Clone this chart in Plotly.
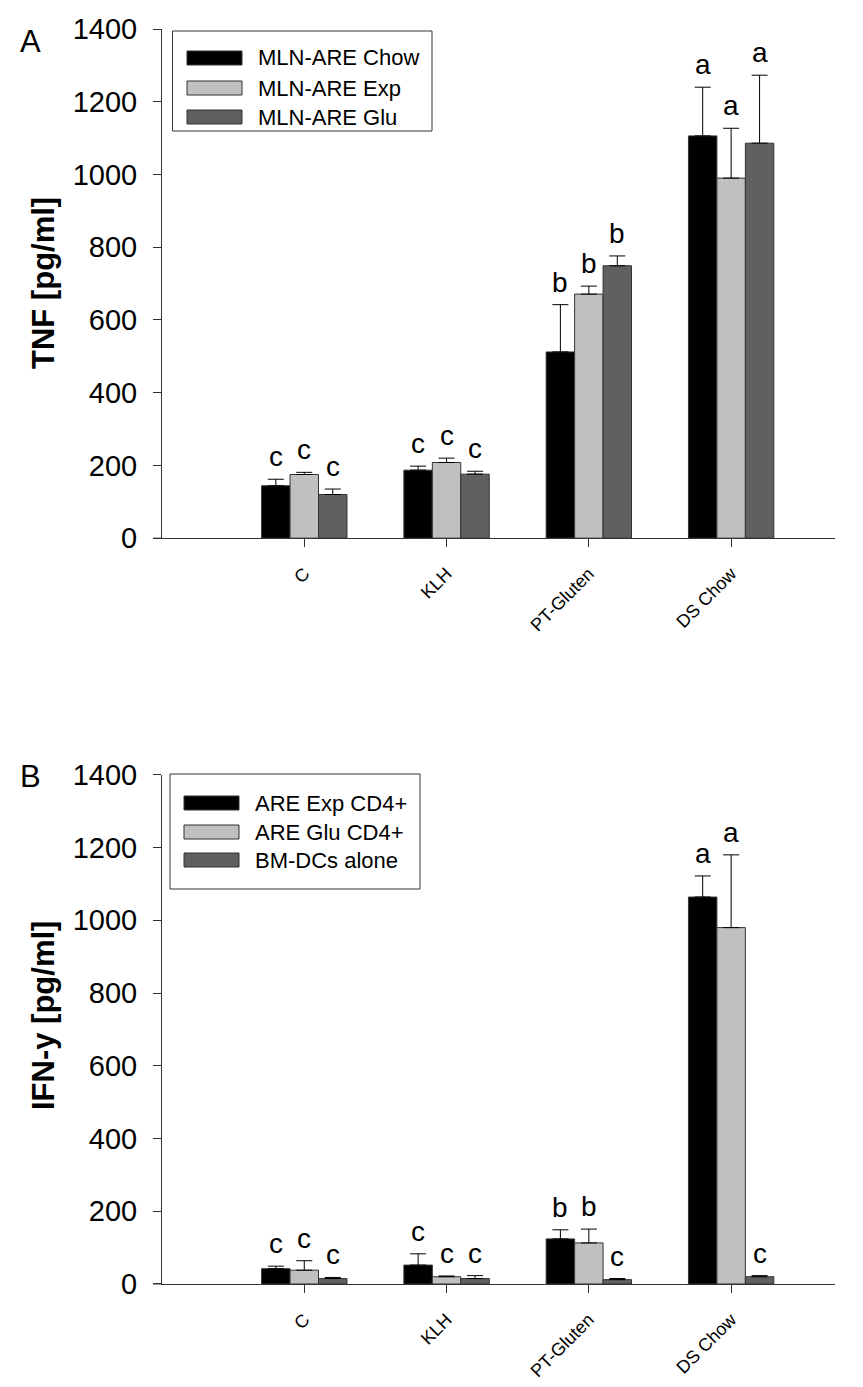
import plotly.graph_objects as go
from plotly.subplots import make_subplots

# ---------------------------------------------------------------------
# Data
# ---------------------------------------------------------------------
categories = ["C", "KLH", "PT-Gluten", "DS Chow"]

# Panel A: TNF [pg/ml]
tnf_names = ["MLN-ARE Chow", "MLN-ARE Exp", "MLN-ARE Glu"]
tnf_chow = [144, 187, 512, 1106]
tnf_exp = [175, 208, 671, 990]
tnf_glu = [120, 176, 749, 1086]
tnf_chow_err = [18, 11, 130, 134]
tnf_exp_err = [6, 12, 22, 137]
tnf_glu_err = [15, 8, 27, 187]
tnf_chow_sig = ["c", "c", "b", "a"]
tnf_exp_sig = ["c", "c", "b", "a"]
tnf_glu_sig = ["c", "c", "b", "a"]

# Panel B: IFN-y [pg/ml]
ifn_names = ["ARE Exp CD4+", "ARE Glu CD4+", "BM-DCs alone"]
ifn_exp = [42, 52, 124, 1064]
ifn_glu = [38, 20, 113, 980]
ifn_dc = [15, 15, 12, 20]
ifn_exp_err = [7, 31, 25, 58]
ifn_glu_err = [26, 2, 38, 200]
ifn_dc_err = [3, 8, 3, 3]
ifn_exp_sig = ["c", "c", "b", "a"]
ifn_glu_sig = ["c", "c", "b", "a"]
ifn_dc_sig = ["c", "c", "c", "c"]

COLORS = ["#000000", "#C0C0C0", "#606060"]
EDGE = "#333333"
FONT = "Arial, Liberation Sans, sans-serif"

W, H = 863, 1387
ML, MR, MT, MB = 162, 28, 29, 103
PW, PH = W - ML - MR, H - MT - MB


def px_x(x):
    return (x - ML) / PW


def px_y(y):
    return (H - MB - y) / PH


fig = make_subplots(rows=2, cols=1, vertical_spacing=0.1886)

panels = [
    (1, tnf_names, [tnf_chow, tnf_exp, tnf_glu],
     [tnf_chow_err, tnf_exp_err, tnf_glu_err],
     [tnf_chow_sig, tnf_exp_sig, tnf_glu_sig]),
    (2, ifn_names, [ifn_exp, ifn_glu, ifn_dc],
     [ifn_exp_err, ifn_glu_err, ifn_dc_err],
     [ifn_exp_sig, ifn_glu_sig, ifn_dc_sig]),
]

xs = list(range(len(categories)))
annotations = []
for row, names, series, errs, sigs in panels:
    for j, (name, vals, err, sig) in enumerate(zip(names, series, errs, sigs)):
        fig.add_trace(
            go.Bar(
                x=xs,
                y=vals,
                name=name,
                marker=dict(color=COLORS[j], line=dict(color=EDGE, width=1)),
                error_y=dict(
                    type="data",
                    array=err,
                    arrayminus=[0] * len(err),
                    symmetric=False,
                    color="#000000",
                    thickness=1,
                    width=8,
                ),
                showlegend=False,
            ),
            row=row,
            col=1,
        )
        # significance letters above each error bar
        xref = "x" if row == 1 else "x2"
        yref = "y" if row == 1 else "y2"
        for i, (v, e, s) in enumerate(zip(vals, err, sig)):
            annotations.append(
                dict(
                    x=i + (j - 1) * 0.2,
                    y=v + e,
                    xref=xref,
                    yref=yref,
                    text=s,
                    showarrow=False,
                    yanchor="bottom",
                    yshift=5,
                    font=dict(size=28, color="#000000", family=FONT),
                )
            )

fig.update_layout(
    barmode="group",
    bargap=0.4,
    bargroupgap=0,
    width=W,
    height=H,
    margin=dict(l=ML, r=MR, t=MT, b=MB, autoexpand=False),
    paper_bgcolor="#ffffff",
    plot_bgcolor="#ffffff",
    font=dict(family=FONT, color="#000000"),
)

fig.update_xaxes(
    range=[-1, 3.73],
    tickmode="array",
    tickvals=xs,
    ticktext=categories,
    tickangle=-45,
    tickfont=dict(size=18, family=FONT, color="#000000"),
    ticks="outside",
    ticklen=8,
    tickcolor=EDGE,
    ticklabelstandoff=9,
    showline=True,
    linecolor=EDGE,
    linewidth=1,
    showgrid=False,
    zeroline=False,
    automargin=False,
)
fig.update_yaxes(
    range=[0, 1400],
    dtick=200,
    tickfont=dict(size=29, family=FONT, color="#000000"),
    ticks="outside",
    ticklen=8,
    tickcolor=EDGE,
    ticklabelstandoff=10,
    showline=True,
    linecolor=EDGE,
    linewidth=1,
    showgrid=False,
    zeroline=False,
    automargin=False,
)

# custom legends (wide swatches like the original)
shapes = []
legends = [
    (tnf_names, 172.5, 31, 432, 131, 187, 242, [58, 88, 117], 256),
    (ifn_names, 170, 774, 420, 889, 184, 239, [803, 832, 860], 253),
]
for names, bx0, by0, bx1, by1, sx0, sx1, rows_y, tx in legends:
    shapes.append(dict(type="rect", xref="paper", yref="paper",
                       x0=px_x(bx0), x1=px_x(bx1), y0=px_y(by1), y1=px_y(by0),
                       line=dict(color=EDGE, width=1), fillcolor="#ffffff", layer="above"))
    for k, (name, ry) in enumerate(zip(names, rows_y)):
        shapes.append(dict(type="rect", xref="paper", yref="paper",
                           x0=px_x(sx0), x1=px_x(sx1), y0=px_y(ry + 7), y1=px_y(ry - 7),
                           line=dict(color=EDGE, width=1), fillcolor=COLORS[k], layer="above"))
        annotations.append(dict(x=px_x(tx), y=px_y(ry), xref="paper", yref="paper",
                                text=name, showarrow=False, xanchor="left", yanchor="middle",
                                font=dict(size=22, family=FONT, color="#000000")))

# x-axis line runs a little past the y axis, to the 0 tick
for yr in ["y domain", "y2 domain"]:
    shapes.append(dict(type="line", xref="paper", yref=yr, x0=px_x(153), x1=0, y0=0, y1=0,
                       line=dict(color=EDGE, width=1)))

# panel letters and y-axis titles
for letter, ly, title, ty in [("A", 42, "TNF [pg/ml]", 283), ("B", 776, "IFN-y [pg/ml]", 1016)]:
    annotations.append(dict(x=px_x(30), y=px_y(ly), xref="paper", yref="paper",
                            text=letter, showarrow=False, xanchor="center", yanchor="middle",
                            font=dict(size=31, family=FONT, color="#000000")))
    annotations.append(dict(x=px_x(43), y=px_y(ty), xref="paper", yref="paper",
                            text="<b>" + title + "</b>", showarrow=False, textangle=-90,
                            xanchor="center", yanchor="middle",
                            font=dict(size=31, family=FONT, color="#000000")))

fig.update_layout(shapes=shapes, annotations=annotations)

# page body has an 8px default margin; drop it so the figure sits at (0, 0)
fig.write_html(
    "out.html",
    config={"displayModeBar": False},
    post_script="document.body.style.margin='0px';",
)
